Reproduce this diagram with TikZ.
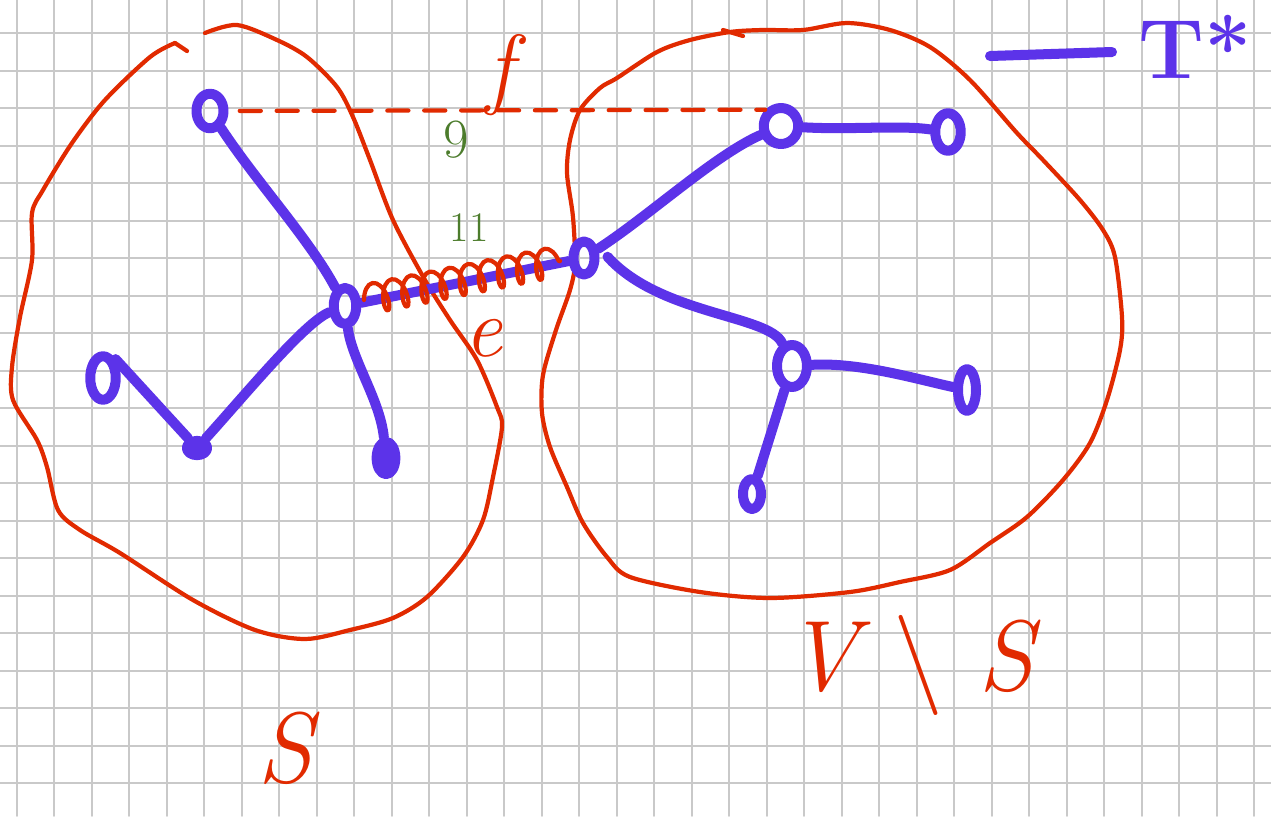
\documentclass[tikz,border=0pt]{standalone}
\usetikzlibrary{shapes.geometric,decorations.pathmorphing}
\definecolor{treeviolet}{HTML}{5C33E9}
\definecolor{cutred}{HTML}{E12A00}
\definecolor{wtgreen}{HTML}{4C7C2C}
\definecolor{paper}{HTML}{C9C9C9}

\begin{document}
\begin{tikzpicture}[x=0.013333cm, y=-0.013333cm, line cap=round, line join=round,
  vert/.style={draw=treeviolet,line width=3.8pt,ellipse,inner sep=0pt,minimum width=0.3cm,minimum height=0.45cm},
  blob/.style={vert,fill=treeviolet},
  tree/.style={treeviolet,line width=3.8pt},
  cut/.style={cutred,line width=1.6pt},
  lbl/.style={text=cutred,inner sep=0pt,font=\fontsize{38}{42}\selectfont\itshape},
  wt/.style={text=wtgreen,inner sep=0pt}]
\useasboundingbox (0,0) rectangle (1271,816);
% squared paper
\foreach \i in {0,...,33}
  \draw[paper,line width=0.65pt] (16.7+37.5*\i,0) -- (16.7+37.5*\i,816);
\foreach \j in {1,...,21}
  \draw[paper,line width=0.65pt] (0,-4.2+37.5*\j) -- (1271,-4.2+37.5*\j);

% the two sides of the cut
\draw[cut] plot[smooth] coordinates {(205,33) (237,25) (277,40) (307,57) (337,87) (353,117) (370,160) (393,220) (425,280) (450,320) (477,360) (497,407) (502,427) (493,477) (483,520) (463,557) (427,597) (393,618) (350,630) (305,639) (255,630) (193,600) (120,553) (80,530) (58,510) (47,467) (37,440) (13,400) (12,367) (20,317) (32,260) (32,213) (43,190) (72,143) (105,100) (150,57) (175,43)};
\draw[cut] (175,43) -- (187,51);
\draw[cut] plot[smooth cycle] coordinates {(690,40) (730,32) (763,30) (803,30) (847,23) (890,30) (930,47) (970,80) (1017,133) (1043,160) (1080,200) (1103,230) (1115,257) (1122,317) (1120,350) (1107,400) (1090,443) (1063,480) (1027,517) (990,543) (950,570) (900,582) (850,592) (770,598) (700,592) (630,577) (607,557) (583,523) (567,487) (550,447) (542,413) (543,375) (556,330) (570,290) (575,263) (573,217) (567,173) (570,140) (580,110) (600,88) (617,78) (657,52)};
\draw[cut] (723,30) -- (743,36);

% vertices
\node[vert,minimum width=0.36cm,minimum height=0.46cm] (a) at (210,111) {};
\node[vert,minimum width=0.3cm,minimum height=0.48cm] (h) at (345,306) {};
\node[vert,minimum width=0.34cm,minimum height=0.58cm] (b) at (103,378) {};
\node[blob,minimum width=0.27cm,minimum height=0.19cm] (c) at (197,448) {};
\node[blob,minimum width=0.25cm,minimum height=0.43cm] (d) at (386,458) {};
\node[vert,minimum width=0.28cm,minimum height=0.44cm] (u) at (584,258) {};
\node[vert,minimum width=0.46cm,minimum height=0.48cm] (w1) at (781,126) {};
\node[vert,minimum width=0.34cm,minimum height=0.5cm] (w2) at (948,132) {};
\node[vert,minimum width=0.4cm,minimum height=0.56cm] (y) at (792,366) {};
\node[vert,minimum width=0.24cm,minimum height=0.56cm] (z1) at (967,390) {};
\node[vert,minimum width=0.24cm,minimum height=0.4cm] (z2) at (752,494) {};

% tree T*
\draw[tree] (a) .. controls (255,180) and (310,240) .. (h);
\draw[tree] (h) .. controls (305,322) and (245,395) .. (c);
\draw[tree] (b.north east) -- (c);
\draw[tree] (h) .. controls (352,360) and (380,400) .. (d);
\draw[tree] (h) -- (u);
\draw[tree] (u) .. controls (650,215) and (715,155) .. (w1);
\draw[tree] (w1) .. controls (850,130) and (900,125) .. (w2);
\draw[tree,shorten <=0.25cm] (u.north east) .. controls (660,315) and (770,315) .. (y);
\draw[tree] (y) .. controls (860,362) and (920,380) .. (z1);
\draw[tree] (y) -- (z2);

% f (dashed) and the scribble on e
\draw[cut,dash pattern=on 8pt off 6pt,shorten <=0.15cm] (a) -- (w1.north west);
\coordinate (eA) at (364,300);
\coordinate (eB) at (560,261);
\draw[cut,decorate,decoration={coil,amplitude=0.2cm,segment length=0.26cm,aspect=0.45}] (eA) -- (eB);

% labels
\node[lbl] (lS) at (285,748) {S};
\node[lbl] (lVS) at (910,665) {V {\upshape\textbackslash} S};
\node[lbl,font=\fontsize{32}{36}\selectfont\itshape] (le) at (483,338) {e};
\node[lbl,font=\fontsize{34}{38}\selectfont\itshape] (lf) at (500,75) {f};
\node[wt,font=\fontsize{21}{24}\selectfont] (w9) at (456,140) {9};
\node[wt,font=\fontsize{16}{19}\selectfont] (w11) at (469,228) {11};

% legend
\coordinate (lgA) at (990,56);
\coordinate (lgB) at (1112,52);
\draw[tree] (lgA) -- (lgB);
\node[text=treeviolet,inner sep=0pt,font=\fontsize{32}{36}\selectfont\bfseries] (tstar) at (1195,47) {T*};
\end{tikzpicture}
\end{document}
